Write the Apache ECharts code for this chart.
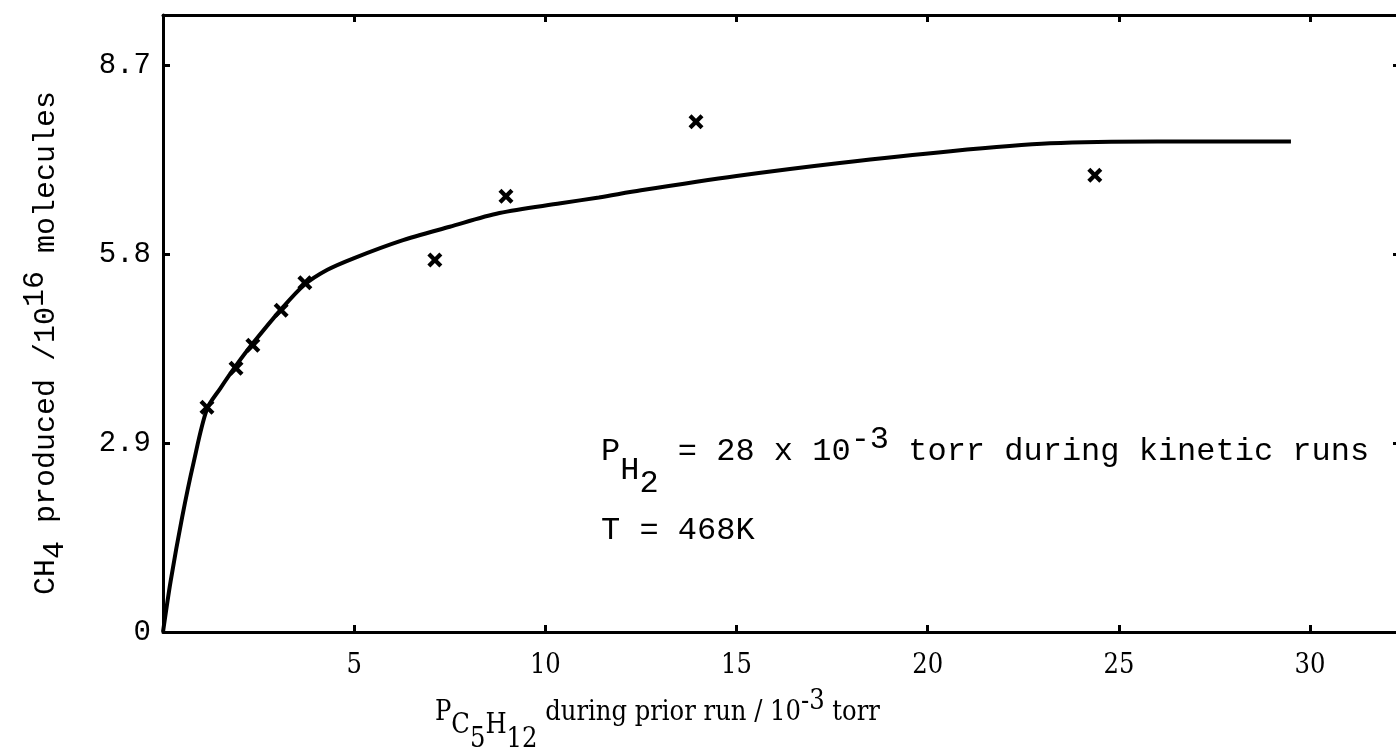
<!DOCTYPE html>
<html>
<head>
<meta charset="utf-8">
<script src="https://cdn.jsdelivr.net/npm/echarts@6/dist/echarts.min.js"></script>
<style>
  html, body { margin: 0; padding: 0; background: #fff; }
  #chart { width: 1396px; height: 755px; }
</style>
</head>
<body>
<div id="chart"></div>
<script>
// measured points (x marks)
const pointX = [1.15, 1.91, 2.35, 3.09, 3.71, 7.11, 8.97, 13.94, 24.37]
const pointY = [3.45, 4.05, 4.40, 4.94, 5.36, 5.71, 6.69, 7.83, 7.01]

// hand drawn curve
const curveX = [0, 0.2, 0.5, 0.8, 1.15, 1.5, 1.9, 2.35, 3.1, 3.7, 4.3, 5, 6.2, 7.5, 8.8, 10.4, 11.4, 12.5, 15, 17.7, 20.6, 23.2, 26, 29.5]
const curveY = [0, 0.78, 1.76, 2.6, 3.42, 3.74, 4.08, 4.43, 4.96, 5.33, 5.56, 5.74, 6.0, 6.22, 6.43, 6.58, 6.67, 6.78, 7.0, 7.2, 7.38, 7.5, 7.53, 7.53]

const xTicks = [5, 10, 15, 20, 25, 30]
const yTicks = [0, 2.9, 5.8, 8.7]

const FONT = 'Liberation Mono'
const NARROW = 'DejaVu Serif Condensed'
const INK = '#000'

// shift a rich token down (d > 0) or up (d < 0)
function shift(d, size, family) {
  return {
    fontFamily: family || FONT,
    fontSize: size,
    color: INK,
    padding: d > 0 ? [2 * d, 0, 0, 0] : [0, 0, -2 * d, 0],
  }
}

function richText(size, extra, family) {
  return Object.assign({
    n: { fontFamily: family || FONT, fontSize: size, color: INK },
  }, extra)
}

const chart = echarts.init(document.getElementById('chart'))

const isTick = (list, v) => list.some((t) => Math.abs(t - v) < 1e-6)

const axisLine = { show: true, onZero: false, lineStyle: { color: INK, width: 3 } }
const axisTick = { show: true, inside: true, length: 7, lineStyle: { color: INK, width: 3 } }

chart.setOption({
  animation: false,
  grid: {
    left: 163,
    right: -2,
    top: 15,
    bottom: 123,
    outerBoundsMode: 'none',
  },
  xAxis: [
    {
      type: 'value',
      position: 'bottom',
      min: 0,
      max: 32.3,
      interval: 5,
      splitLine: { show: false },
      axisLine,
      axisTick,
      axisLabel: {
        margin: 20,
        fontFamily: NARROW,
        fontSize: 27,
        color: INK,
        showMaxLabel: false,
        formatter: (v) => (v > 0 && isTick(xTicks, v) ? String(v) : ''),
      },
    },
    {
      type: 'value',
      position: 'top',
      min: 0,
      max: 32.3,
      interval: 5,
      splitLine: { show: false },
      axisLine,
      axisTick,
      axisLabel: { show: false },
    },
  ],
  yAxis: [
    {
      type: 'value',
      position: 'left',
      min: 0,
      max: 9.47,
      interval: 2.9,
      splitLine: { show: false },
      axisLine,
      axisTick,
      axisLabel: {
        margin: 12,
        fontFamily: FONT,
        fontSize: 29,
        color: INK,
        showMaxLabel: false,
        formatter: (v) => {
          if (!isTick(yTicks, v)) return ''
          return v === 0 ? '0' : v.toFixed(1)
        },
      },
    },
    {
      type: 'value',
      position: 'right',
      min: 0,
      max: 9.47,
      interval: 2.9,
      splitLine: { show: false },
      axisLine,
      axisTick: Object.assign({}, axisTick, { length: 5 }),
      axisLabel: { show: false },
    },
  ],
  series: [
    {
      type: 'line',
      data: curveX.map((x, i) => [x, curveY[i]]),
      showSymbol: false,
      smooth: 0.3,
      lineStyle: { color: INK, width: 4 },
      silent: true,
    },
    {
      type: 'scatter',
      data: pointX.map((x, i) => [x, pointY[i]]),
      symbol: 'path://M2,0 L5,3 L8,0 L10,2 L7,5 L10,8 L8,10 L5,7 L2,10 L0,8 L3,5 L0,2 Z',
      symbolSize: 15,
      itemStyle: { color: INK, opacity: 1 },
      z: 5,
    },
  ],
  graphic: [
    {
      // y axis title
      type: 'text',
      x: 46,
      y: 343,
      rotation: Math.PI / 2,
      style: {
        text: '{n|CH}{sub|4}{n| produced /10}{sup|16}{n| molecules}',
        align: 'center',
        verticalAlign: 'middle',
        rich: richText(30, { sub: shift(9, 30), sup: shift(-11, 30) }),
      },
    },
    {
      // x axis title
      type: 'text',
      x: 435,
      y: 713,
      style: {
        text: '{n|P}{s1|C}{s2|5}{s1|H}{s2|12}{n| during prior run / 10}{sup|-3}{n| torr}',
        align: 'left',
        verticalAlign: 'middle',
        rich: richText(27, {
          s1: shift(13, 27, NARROW),
          s2: shift(27, 27, NARROW),
          sup: shift(-11, 27, NARROW),
        }, NARROW),
      },
    },
    {
      type: 'text',
      x: 601,
      y: 452,
      style: {
        text: '{n|P}{s1|H}{s2|2}{n| = 28 x 10}{sup|-3}{n| torr during kinetic runs}',
        align: 'left',
        verticalAlign: 'middle',
        rich: richText(32, { s1: shift(19, 32), s2: shift(32, 32), sup: shift(-12, 32) }),
      },
    },
    {
      type: 'text',
      x: 601,
      y: 531,
      style: {
        text: 'T = 468K',
        align: 'left',
        verticalAlign: 'middle',
        fontFamily: FONT,
        fontSize: 32,
        fill: INK,
      },
    },
  ],
})
</script>
</body>
</html>
